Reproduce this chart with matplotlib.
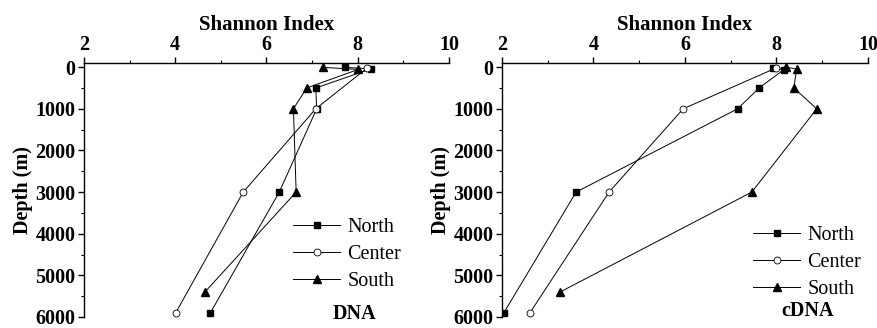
import matplotlib
matplotlib.use("Agg")
import matplotlib.pyplot as plt
from matplotlib.ticker import MultipleLocator

plt.rcParams['font.family'] = ['Liberation Serif', 'DejaVu Serif']

# Shannon index vs depth
dna_north_x = [7.73, 8.29, 7.08, 7.10, 6.28, 4.77]
dna_north_d = [5, 40, 500, 1000, 3000, 5900]
dna_center_x = [8.20, 7.08, 5.49, 4.01]
dna_center_d = [25, 1000, 3000, 5900]
dna_south_x = [7.23, 8.01, 6.88, 6.59, 6.65, 4.65]
dna_south_d = [5, 55, 500, 1000, 3000, 5400]

cdna_north_x = [7.92, 8.16, 7.62, 7.15, 3.62, 2.04]
cdna_north_d = [20, 60, 500, 1000, 3000, 5900]
cdna_center_x = [7.99, 5.96, 4.34, 2.61]
cdna_center_d = [20, 1000, 3000, 5900]
cdna_south_x = [8.21, 8.44, 8.38, 8.88, 7.46, 3.27]
cdna_south_d = [0, 45, 500, 1000, 3000, 5400]

names = ['North', 'Center', 'South']
xticks = [2, 4, 6, 8, 10]
yticks = [0, 1000, 2000, 3000, 4000, 5000, 6000]

fig = plt.figure(figsize=(8.78, 3.28), dpi=100)
W, H = 878, 328


def px_axes(x0, x1, y0, y1):
    return fig.add_axes([x0 / W, 1 - y1 / H, (x1 - x0) / W, (y1 - y0) / H])


ax1 = px_axes(84, 449, 63, 317)
ax2 = px_axes(502, 868, 63, 317)

styles = [dict(marker='s', ms=4.5, mfc='black', mec='black'),
          dict(marker='o', ms=5, mfc='white', mec='black', mew=0.6),
          dict(marker='^', ms=6, mfc='black', mec='black')]

panels = [
    (ax1, [(dna_north_x, dna_north_d), (dna_center_x, dna_center_d), (dna_south_x, dna_south_d)],
     'DNA', (293, 229), (355, 314)),
    (ax2, [(cdna_north_x, cdna_north_d), (cdna_center_x, cdna_center_d), (cdna_south_x, cdna_south_d)],
     'cDNA', (753, 237), (808, 311)),
]

for ax, series, tag, legpos, tagpos in panels:
    for (x, d), name, st in zip(series, names, styles):
        ax.plot(x, d, color='black', lw=0.7, label=name, **st)
    ax.set_xlim(2, 10)
    ax.set_ylim(6000, -100)
    ax.xaxis.tick_top()
    ax.xaxis.set_label_position('top')
    ax.set_xticks(xticks)
    ax.set_yticks(yticks)
    ax.xaxis.set_minor_locator(MultipleLocator(1))
    ax.yaxis.set_minor_locator(MultipleLocator(500))
    ax.spines['right'].set_visible(False)
    ax.spines['bottom'].set_visible(False)
    for s in ('top', 'left'):
        ax.spines[s].set_linewidth(1.0)
    ax.tick_params(axis='both', which='major', direction='out', length=4, width=1,
                   labelsize=14.5)
    ax.tick_params(axis='both', which='minor', direction='out', length=2, width=0.8)
    ax.tick_params(axis='x', pad=1.5)
    ax.tick_params(axis='y', pad=2)
    for lab in ax.get_xticklabels() + ax.get_yticklabels():
        lab.set_fontweight('bold')
    ax.set_xlabel('Shannon Index', fontsize=15, fontweight='bold', labelpad=4)
    ax.set_ylabel('Depth (m)', fontsize=14.5, fontweight='bold', labelpad=2)
    ax.legend(loc='upper left', bbox_to_anchor=(legpos[0] / W, 1 - (legpos[1] - 11) / H),
              bbox_transform=fig.transFigure, frameon=False, fontsize=14.5,
              borderpad=0, borderaxespad=0, handlelength=2.35, handletextpad=0.35,
              labelspacing=0.4)
    fig.text(tagpos[0] / W, 1 - tagpos[1] / H, tag, fontsize=14.5, fontweight='bold',
             ha='center', va='center')

fig.savefig('out.png', dpi=100)
